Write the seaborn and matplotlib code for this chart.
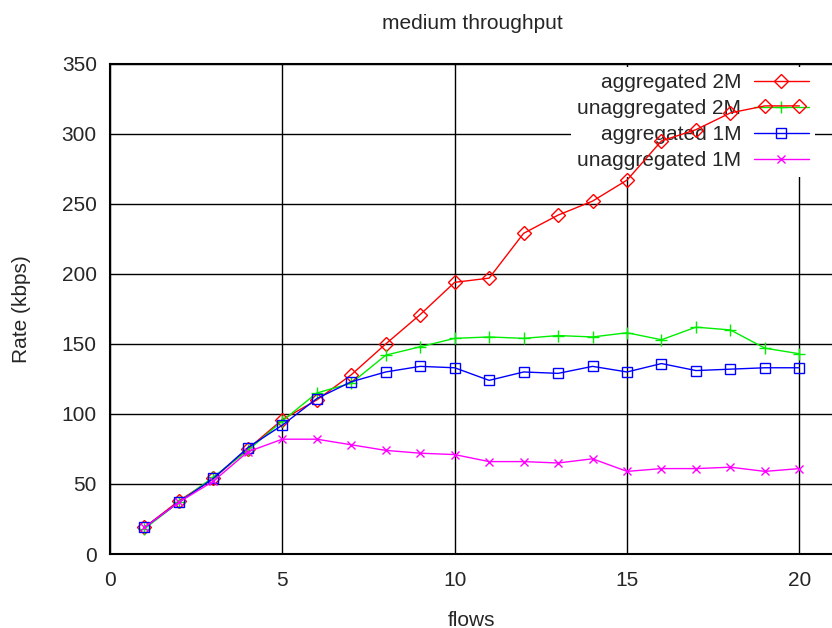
import numpy as np
import pandas as pd
import seaborn as sns
import matplotlib
matplotlib.use("Agg")
import matplotlib.pyplot as plt

# 每条曲线的数据
flows = list(range(1, 21))
agg_2m = [19, 38, 54, 75, 96, 110, 128, 150, 171, 194, 197, 229, 242, 252, 267, 295, 303, 315, 320, 320]
unagg_2m = [18, 37, 55, 74, 95, 115, 122, 142, 148, 154, 155, 154, 156, 155, 158, 153, 162, 160, 147, 143]
agg_1m = [19, 37, 54, 76, 92, 111, 123, 130, 134, 133, 124, 130, 129, 134, 130, 136, 131, 132, 133, 133]
unagg_1m = [19, 37, 52, 73, 82, 82, 78, 74, 72, 71, 66, 66, 65, 68, 59, 61, 61, 62, 59, 61]

labels = ['aggregated 2M', 'unaggregated 2M', 'aggregated 1M', 'unaggregated 1M']
colors = ['#ff0000', '#00ee00', '#0000ff', '#ff00ff']
markers = ['D', '+', 's', 'x']
msizes = [7, 9, 6.5, 6]

sns.set_style("white")
plt.rcParams['font.family'] = ['Liberation Sans', 'DejaVu Sans']
fs = 15

fig = plt.figure(figsize=(8.32, 6.28), dpi=100)
ax = fig.add_axes([0.1322, 0.1178, 0.870, 0.7805])

for vals, lab, c, m, ms in zip([agg_2m, unagg_2m, agg_1m, unagg_1m], labels, colors, markers, msizes):
    df = pd.DataFrame({'flows': flows, 'rate': vals})
    sns.lineplot(data=df, x='flows', y='rate', ax=ax, color=c, linewidth=1,
                 marker=m, markersize=ms, markerfacecolor='none', markeredgecolor=c,
                 markeredgewidth=1, label=lab, zorder=3)

ax.set_xlim(0, 21)
ax.set_ylim(0, 350)
ax.set_xticks([0, 5, 10, 15, 20])
ax.set_yticks(np.arange(0, 351, 50))
ax.grid(True, color='black', linewidth=1)
ax.set_axisbelow(True)
for s in ax.spines.values():
    s.set_color('black')
    s.set_linewidth(1.5)
ax.tick_params(axis='both', labelsize=fs, direction='in', length=0)
ax.tick_params(axis='x', pad=12)
ax.tick_params(axis='y', pad=9.5)

ax.set_xlabel('flows', fontsize=fs, labelpad=15)
ax.set_ylabel('Rate (kbps)', fontsize=fs, labelpad=22)
ax.set_title('medium throughput', fontsize=fs, pad=25)

leg = ax.legend(loc='upper right', markerfirst=False, alignment='right', frameon=True,
                fontsize=fs, handlelength=2.65, handletextpad=0.58, labelspacing=0.34,
                borderpad=0.3, borderaxespad=0, bbox_to_anchor=(0.974, 0.994))
leg.get_frame().set_facecolor('white')
leg.get_frame().set_edgecolor('none')
leg.get_frame().set_alpha(1)
leg.set_zorder(2)

fig.savefig('out.png', dpi=100)
